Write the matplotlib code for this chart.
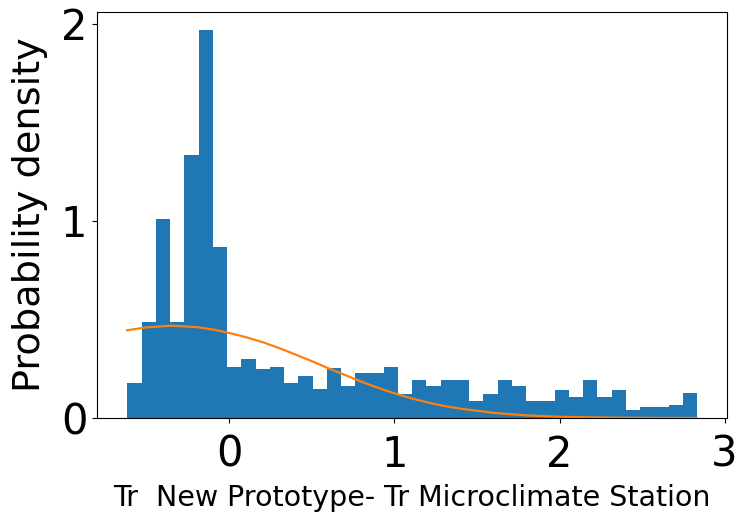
import numpy as np
import matplotlib
matplotlib.use("Agg")
import matplotlib.pyplot as plt

# histogram (density): 40 equal bins
bin_lo = -0.618
bin_hi = 2.833
n_bins = 40
density = [0.175, 0.488, 1.010, 0.488, 1.332, 1.971, 0.869, 0.259, 0.298, 0.249,
           0.259, 0.175, 0.212, 0.146, 0.251, 0.163, 0.229, 0.229, 0.260, 0.120,
           0.192, 0.163, 0.192, 0.192, 0.087, 0.124, 0.192, 0.163, 0.087, 0.087,
           0.144, 0.107, 0.192, 0.107, 0.144, 0.039, 0.056, 0.056, 0.068, 0.127]

# fitted curve
curve_x = [-0.62, -0.5, -0.35, -0.2, -0.1, 0.0, 0.1, 0.2, 0.3, 0.4, 0.5, 0.6, 0.7,
           0.8, 0.9, 1.0, 1.1, 1.2, 1.3, 1.4, 1.6, 1.8, 2.0, 2.2, 2.4, 2.6, 2.83]
curve_y = [0.445, 0.460, 0.468, 0.461, 0.449, 0.431, 0.410, 0.385, 0.355, 0.322,
           0.288, 0.252, 0.218, 0.184, 0.153, 0.125, 0.100, 0.079, 0.061, 0.047,
           0.026, 0.013, 0.006, 0.003, 0.001, 0.0005, 0.0001]

xticks = [0, 1, 2, 3]
yticks = [0, 1, 2]

edges = np.linspace(bin_lo, bin_hi, n_bins + 1)

fig = plt.figure(figsize=(7.39, 5.16), dpi=100)
ax = fig.add_axes([0.1313, 0.19, 0.8525, 0.7868])

ax.hist(edges[:-1], bins=edges, weights=density, color="C0")
ax.plot(curve_x, curve_y, color="C1", lw=1.6)

ax.set_xlim(-0.802, 3.015)
ax.set_ylim(0, 2.06)
ax.set_xticks(xticks)
ax.set_yticks(yticks)
ax.tick_params(labelsize=30)
ax.tick_params(axis="x", pad=8)

ax.set_xlabel("Tr  New Prototype- Tr Microclimate Station", fontsize=20.5, labelpad=6)
ax.set_ylabel("Probability density", fontsize=27.5, labelpad=9)

fig.savefig("out.png", dpi=100)
